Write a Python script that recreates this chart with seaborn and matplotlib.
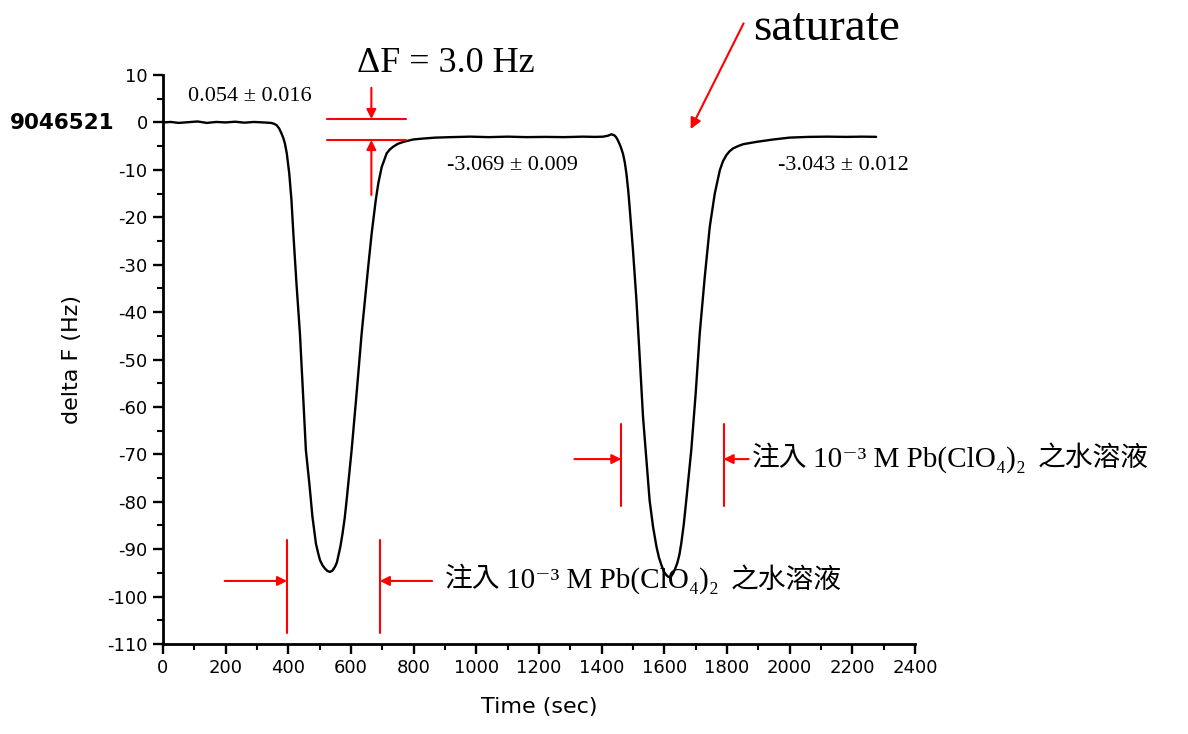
import matplotlib
matplotlib.use("Agg")
import matplotlib.pyplot as plt
import seaborn as sns
from matplotlib.ticker import MultipleLocator

# ---- data ----
time_sec = [0, 25, 50, 80, 110, 140, 170, 200, 230, 260, 290, 320, 345, 355,
            363, 371, 378, 384, 389, 395, 403, 410, 416, 426, 437, 448, 456,
            467, 477, 483, 488, 495, 501, 509, 517, 525, 533, 541, 549, 555,
            559, 566, 573, 580, 586, 602, 616, 634, 655, 666, 679, 687, 698,
            714, 724, 735, 750, 767, 798, 830, 870, 920, 980, 1040, 1100,
            1160, 1220, 1280, 1340, 1380, 1405, 1420, 1431, 1440, 1446, 1452,
            1460, 1468, 1474, 1479, 1485, 1490, 1500, 1511, 1522, 1532, 1543,
            1553, 1564, 1575, 1583, 1591, 1599, 1607, 1612, 1617, 1622, 1628,
            1634, 1641, 1648, 1654, 1662, 1670, 1686, 1700, 1713, 1729, 1745,
            1761, 1777, 1787, 1798, 1808, 1819, 1835, 1851, 1894, 1947, 2000,
            2060, 2120, 2180, 2230, 2276]
delta_f = [0.0, 0.1, -0.1, 0.05, 0.2, -0.1, 0.1, 0.0, 0.15, -0.05, 0.1, 0.0,
           -0.1, -0.3, -0.6, -1.3, -2.3, -3.3, -4.4, -6.5, -10.8, -16.4,
           -23.4, -34.0, -44.5, -58.6, -69.1, -76.1, -83.2, -86.2, -88.8,
           -90.8, -92.3, -93.4, -94.1, -94.6, -94.8, -94.5, -93.7, -92.8,
           -91.6, -89.5, -86.7, -83.4, -79.7, -69.1, -58.6, -44.5, -30.4,
           -23.4, -16.4, -12.9, -9.4, -6.5, -5.7, -5.1, -4.5, -4.1, -3.6,
           -3.4, -3.2, -3.1, -3.0, -3.1, -3.0, -3.1, -3.05, -3.1, -3.0, -3.05,
           -3.0, -2.8, -2.5, -2.7, -3.1, -3.8, -5.0, -6.6, -8.5, -10.8, -14.5,
           -18.5, -27.0, -37.5, -50.2, -62.1, -71.3, -79.7, -85.3, -89.5,
           -91.8, -93.4, -94.8, -95.5, -95.8, -95.9, -95.7, -95.1, -94.2,
           -93.0, -91.2, -88.8, -84.8, -79.7, -69.1, -57.2, -44.5, -32.6,
           -22.0, -15.0, -10.1, -8.2, -6.9, -6.1, -5.5, -5.0, -4.6, -4.1,
           -3.6, -3.2, -3.05, -3.0, -3.05, -3.0, -3.04]

x_ticks = list(range(0, 2401, 200))
y_ticks = list(range(-110, 11, 10))

baseline_labels = ["0.054 \u00b1 0.016", "-3.069 \u00b1 0.009", "-3.043 \u00b1 0.012"]
inject_parts = ["注入", "10\u207b\u00b3 M Pb(ClO\u2084)\u2082", "之水溶液"]
sample_id = "9046521"

# ---- figure ----
sns.set_theme(style="ticks")
plt.rcParams["font.family"] = ["DejaVu Sans"]
plt.rcParams["axes.unicode_minus"] = False
plt.rcParams["text.color"] = "black"
plt.rcParams["axes.labelcolor"] = "black"

fig = plt.figure(figsize=(11.88, 7.34), dpi=100)
ax = fig.add_axes([0.1372, 0.1226, 0.633, 0.7752])

sns.lineplot(x=time_sec, y=delta_f, ax=ax, color="black", lw=1.7,
             estimator=None, sort=False)

ax.set_xlim(0, 2400)
ax.set_ylim(-110, 10)
ax.set_xticks(x_ticks)
ax.set_yticks(y_ticks)
ax.xaxis.set_minor_locator(MultipleLocator(100))
ax.yaxis.set_minor_locator(MultipleLocator(5))
sns.despine(ax=ax)
for s in ("left", "bottom"):
    ax.spines[s].set_linewidth(2.0)
    ax.spines[s].set_color("black")
ax.tick_params(which="major", direction="out", length=7, width=1.7,
               labelsize=13, pad=4, colors="black")
ax.tick_params(which="minor", direction="out", length=4, width=1.5,
               colors="black")
ax.set_xlabel("Time (sec)", fontsize=16, labelpad=14, color="black")
ax.set_ylabel("delta F (Hz)", fontsize=16, labelpad=18, color="black")

fig.text(10 / 1188, 1 - 123 / 734, sample_id, fontsize=15.5, fontweight="bold",
         ha="left", va="center", color="black")

serif = ["Liberation Serif", "DejaVu Serif", "Noto Sans CJK TC"]
red = "#ff0000"

# baseline labels
ax.text(278, 5.4, baseline_labels[0], family=serif, fontsize=16,
        ha="center", va="center")
ax.text(1116, -9.0, baseline_labels[1], family=serif, fontsize=16,
        ha="center", va="center")
ax.text(2173, -9.0, baseline_labels[2], family=serif, fontsize=16,
        ha="center", va="center", clip_on=False)

# delta F marker
ax.text(904, 12.5, "\u0394F = 3.0 Hz", family=serif, fontsize=26,
        ha="center", va="center", clip_on=False)
ax.plot([524, 776], [0.72, 0.72], color=red, lw=1.5)
ax.plot([524, 776], [-3.7, -3.7], color=red, lw=1.5)
arrow_kw = dict(arrowstyle="-|>", color=red, lw=1.5, mutation_scale=14,
                shrinkA=0, shrinkB=0)
ax.annotate("", xy=(665, 0.72), xytext=(665, 7.3), arrowprops=arrow_kw,
            annotation_clip=False)
ax.annotate("", xy=(665, -3.7), xytext=(665, -15.3), arrowprops=arrow_kw)

# saturate
ax.text(2118, 19.8, "saturate", family=serif, fontsize=34,
        ha="center", va="center", clip_on=False)
ax.annotate("", xy=(1684, -1.4), xytext=(1853, 20.9),
            arrowprops=dict(arrowstyle="-|>", color=red, lw=1.5,
                            mutation_scale=16, shrinkA=0, shrinkB=0),
            annotation_clip=False)

part_sizes = [20, 21, 20]

def inject_text(x_starts, y):
    for part, x0, fs in zip(inject_parts, x_starts, part_sizes):
        ax.text(x0, y, part, family=serif, fontsize=fs, ha="left",
                va="center", clip_on=False)

# injection markers (first)
ax.plot([396, 396], [-88.1, -107.7], color=red, lw=1.5)
ax.plot([692, 692], [-88.1, -107.7], color=red, lw=1.5)
ax.annotate("", xy=(396, -96.7), xytext=(197, -96.7), arrowprops=arrow_kw)
ax.annotate("", xy=(692, -96.7), xytext=(859, -96.7), arrowprops=arrow_kw)
inject_text([900, 1094, 1812], -96.7)

# injection markers (second)
ax.plot([1463, 1463], [-63.6, -80.9], color=red, lw=1.5)
ax.plot([1789, 1789], [-63.6, -80.9], color=red, lw=1.5)
ax.annotate("", xy=(1463, -71), xytext=(1313, -71), arrowprops=arrow_kw)
ax.annotate("", xy=(1789, -71), xytext=(1869, -71), arrowprops=arrow_kw)
inject_text([1879, 2073, 2791], -71)

fig.savefig("out.png", dpi=100, facecolor="white")
